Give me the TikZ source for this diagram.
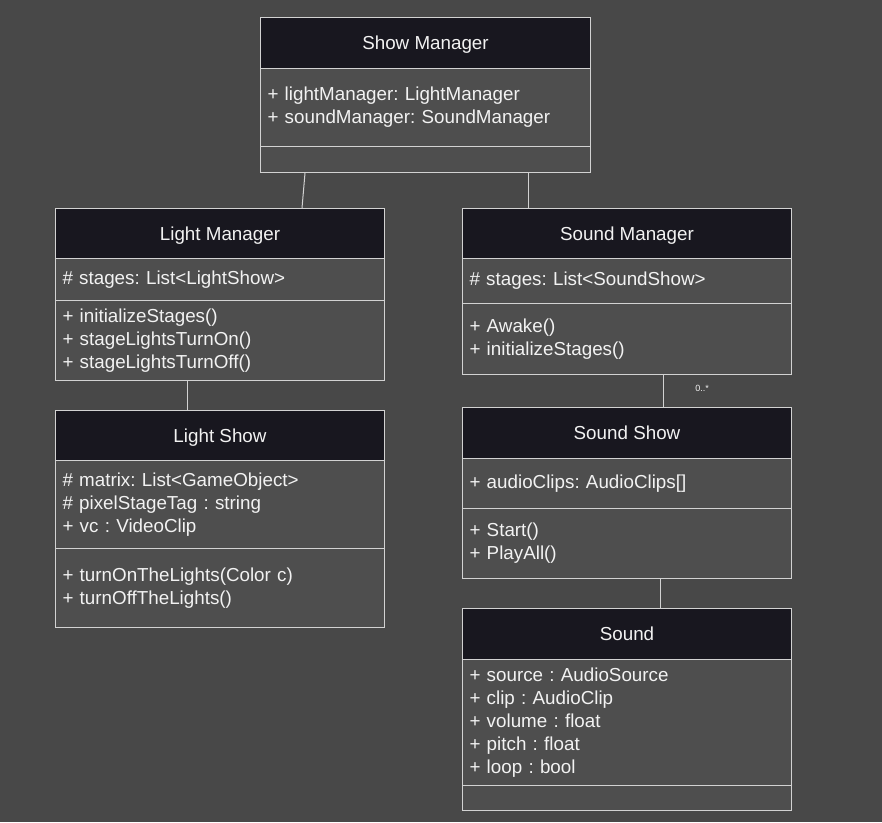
\documentclass[tikz,border=0pt]{standalone}
\usepackage{fontspec}
\setmainfont{Liberation Sans}
\usetikzlibrary{calc}
\frenchspacing
\definecolor{bgc}{HTML}{484848}
\definecolor{boxc}{HTML}{4E4E4E}
\definecolor{hdrc}{HTML}{18171F}
\definecolor{edgec}{HTML}{D2D2D2}
\definecolor{txtc}{HTML}{F2F2F2}
\tikzset{
  x=1pt, y=-1pt,
  hdr/.style={draw=edgec, line width=1pt, fill=hdrc, anchor=north west, inner sep=0pt,
    minimum width=329pt, text=txtc, text height=13pt, text depth=0pt,
    font=\fontsize{18.8}{23}\selectfont},
  comp/.style={draw=edgec, line width=1pt, fill=boxc, anchor=north west, inner xsep=7pt, inner ysep=0pt,
    text width=315pt, align=left, text=txtc, font=\fontsize{18.8}{23}\selectfont\frenchspacing},
  link/.style={draw=edgec, line width=1pt},
  mult/.style={text=txtc, font=\fontsize{9}{10}\selectfont, inner sep=0pt}
}
\begin{document}
\begin{tikzpicture}
\useasboundingbox[fill=bgc] (0,0) rectangle (882,822);

% Show Manager
\node[hdr, minimum width=330pt, minimum height=51pt] (smH) at (260,17) {Show Manager};
\node[comp, text width=316pt, minimum height=78pt] (smA) at (260,68) {+ lightManager: LightManager\\+ soundManager: SoundManager};
\node[comp, text width=316pt, minimum height=26pt] (smM) at (260,146) {};

% Light Manager
\node[hdr, minimum height=50pt] (lmH) at (55,208) {Light Manager};
\node[comp, minimum height=42pt] (lmA) at (55,258) {\# stages: List<LightShow>};
\node[comp, minimum height=80pt] (lmM) at (55,300) {+ initializeStages()\\+ stageLightsTurnOn()\\+ stageLightsTurnOff()};

% Light Show
\node[hdr, minimum height=50pt] (lsH) at (55,410) {Light Show};
\node[comp, minimum height=88pt] (lsA) at (55,460) {\# matrix: List<GameObject>\\\# pixelStageTag : string\\+ vc : VideoClip};
\node[comp, minimum height=79pt] (lsM) at (55,548) {+ turnOnTheLights(Color c)\\+ turnOffTheLights()\\[23pt]};

% Sound Manager
\node[hdr, minimum height=50pt] (gmH) at (462,208) {Sound Manager};
\node[comp, minimum height=45pt] (gmA) at (462,258) {\# stages: List<SoundShow>};
\node[comp, minimum height=71pt] (gmM) at (462,303) {+ Awake()\\+ initializeStages()};

% Sound Show
\node[hdr, minimum height=51pt] (gsH) at (462,407) {Sound Show};
\node[comp, minimum height=50pt] (gsA) at (462,458) {+ audioClips: AudioClips[]};
\node[comp, minimum height=70pt] (gsM) at (462,508) {+ Start()\\+ PlayAll()};

% Sound
\node[hdr, minimum height=51pt] (snH) at (462,608) {Sound};
\node[comp, minimum height=126pt] (snA) at (462,659) {+ source : AudioSource\\+ clip : AudioClip\\+ volume : float\\+ pitch : float\\+ loop : bool};
\node[comp, minimum height=25pt] (snM) at (462,785) {};

% Connectors
\draw[link] ($(smM.south west)+(45,0)$) -- ($(lmH.north west)+(247,0)$);
\draw[link] ($(smM.south west)+(268,0)$) -- ($(gmH.north west)+(66,0)$);
\draw[link] ($(lmM.south west)+(132,0)$) -- ($(lsH.north west)+(132,0)$);
\draw[link] ($(gmM.south west)+(201,0)$) -- ($(gsH.north west)+(201,0)$);
\draw[link] ($(gsM.south west)+(198,0)$) -- ($(snH.north west)+(198,0)$);
\node[mult] (multA) at ($(gmM.south west)+(240,13)$) {0..*};
\end{tikzpicture}
\end{document}
